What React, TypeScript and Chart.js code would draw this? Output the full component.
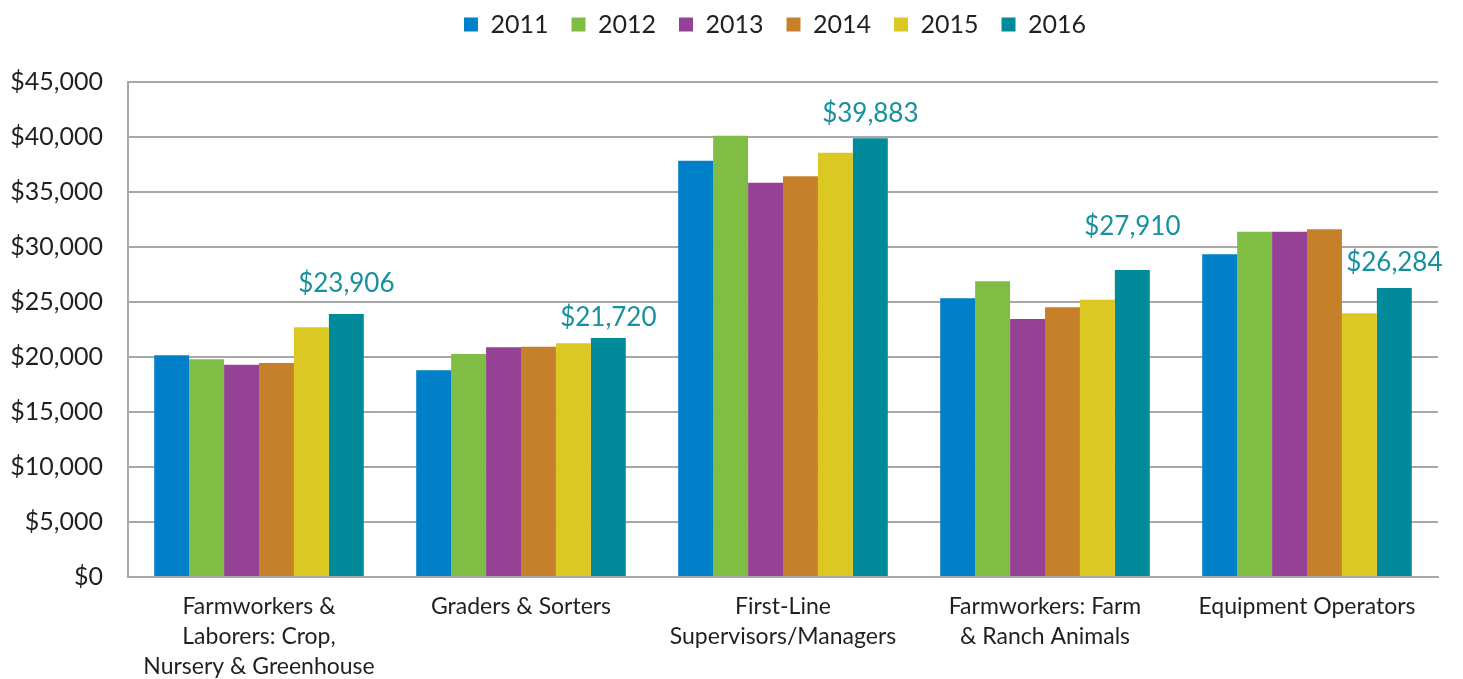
import React, { useEffect, useRef } from "react";
import { Chart, registerables } from "chart.js";

Chart.register(...registerables);

const categories: string[][] = [
  ["Farmworkers &", "Laborers: Crop,", "Nursery & Greenhouse"],
  ["Graders & Sorters"],
  ["First-Line", "Supervisors/Managers"],
  ["Farmworkers: Farm", "& Ranch Animals"],
  ["Equipment Operators"],
];

const years = ["2011", "2012", "2013", "2014", "2015", "2016"];

const values2011 = [20150, 18800, 37850, 25330, 29330];
const values2012 = [19800, 20270, 40120, 26880, 31390];
const values2013 = [19300, 20880, 35850, 23450, 31390];
const values2014 = [19450, 20940, 36430, 24520, 31620];
const values2015 = [22700, 21240, 38570, 25210, 23970];
const values2016 = [23906, 21720, 39883, 27910, 26284];

const seriesValues = [values2011, values2012, values2013, values2014, values2015, values2016];
const seriesColors = ["#0080C8", "#80BD45", "#944196", "#C6802A", "#DBC823", "#008A9A"];

const yTicks = [0, 5000, 10000, 15000, 20000, 25000, 30000, 35000, 40000, 45000];

const FONT = "Lato, 'Noto Sans', sans-serif";
const TEXT = "#231F20";
const GRID = "#A8A8A8";

const labelLift = [30, 20, 25, 43, 25];

const layoutPlugin = {
  id: "layoutTweaks",
  afterInit(chart: any) {
    const legend = chart.legend;
    if (legend) {
      const origFit = legend.fit.bind(legend);
      legend.fit = function () {
        origFit();
        this.height = 82;
      };
    }
  },
  afterLayout(chart: any) {
    const legend = chart.legend;
    if (legend) {
      legend.top -= 11;
      legend.bottom -= 11;
      legend.left += 56;
      legend.right += 56;
    }
  },
};

const valueLabelPlugin = {
  id: "valueLabels",
  afterDatasetsDraw(chart: any) {
    const ctx = chart.ctx;
    const dsIndex = chart.data.datasets.length - 1;
    const meta = chart.getDatasetMeta(dsIndex);
    const data = chart.data.datasets[dsIndex].data as number[];
    ctx.save();
    ctx.font = `26px ${FONT}`;
    ctx.fillStyle = "#16919D";
    ctx.textAlign = "center";
    ctx.textBaseline = "middle";
    meta.data.forEach((el: any, i: number) => {
      const txt = "$" + data[i].toLocaleString("en-US");
      ctx.fillText(txt, el.x, el.y - labelLift[i]);
    });
    ctx.restore();
  },
};

export default function App() {
  const canvasRef = useRef<HTMLCanvasElement | null>(null);

  useEffect(() => {
    const canvas = canvasRef.current;
    if (!canvas) return;
    const chart = new Chart(canvas, {
      type: "bar",
      data: {
        labels: categories,
        datasets: years.map((y, i) => ({
          label: y,
          data: seriesValues[i],
          backgroundColor: seriesColors[i],
          borderWidth: 0,
          categoryPercentage: 0.8,
          barPercentage: 1.0,
        })),
      },
      options: {
        responsive: false,
        animation: false,
        layout: { padding: { left: 0, right: 25, top: 0, bottom: 0 } },
        plugins: {
          legend: {
            display: true,
            position: "top",
            labels: {
              boxWidth: 14,
              boxHeight: 14,
              padding: 23,
              color: TEXT,
              font: { family: FONT, size: 25 },
            },
          },
          tooltip: { enabled: false },
        },
        scales: {
          x: {
            grid: { display: false, drawTicks: false },
            border: { display: true, color: GRID, width: 2 },
            ticks: {
              color: TEXT,
              font: { family: FONT, size: 23, lineHeight: 30 / 23 },
              padding: 15,
              maxRotation: 0,
              autoSkip: false,
            },
            afterFit(scale: any) {
              scale.height = 102;
            },
          },
          y: {
            min: 0,
            max: 45000,
            afterBuildTicks(scale: any) {
              scale.ticks = yTicks.map((v) => ({ value: v }));
            },
            grid: { color: GRID, lineWidth: 2, drawTicks: false },
            border: { display: true, color: GRID, width: 2 },
            ticks: {
              color: TEXT,
              font: { family: FONT, size: 25 },
              padding: 25,
              callback: (v: any) => "$" + Number(v).toLocaleString("en-US"),
            },
            afterFit(scale: any) {
              scale.width = 128;
            },
          },
        },
      },
      plugins: [layoutPlugin, valueLabelPlugin],
    });
    return () => chart.destroy();
  }, []);

  return (
    <div style={{ position: "absolute", left: 0, top: 0, width: 1463, height: 679, background: "#fff" }}>
      <canvas ref={canvasRef} width={1463} height={679} style={{ display: "block" }} />
    </div>
  );
}
